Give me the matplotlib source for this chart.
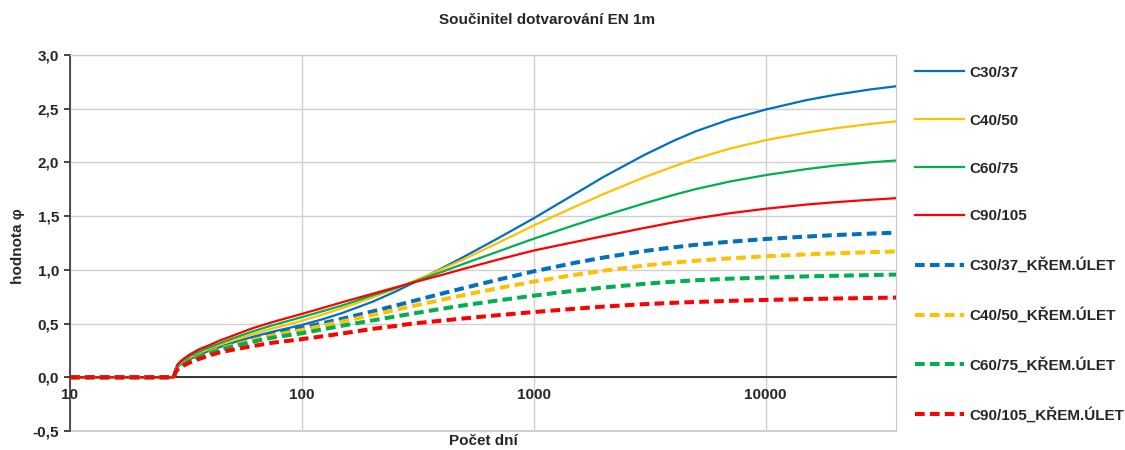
import matplotlib
matplotlib.use('Agg')
import matplotlib.pyplot as plt
from matplotlib.ticker import FixedLocator, NullLocator

plt.rcParams['font.family'] = ['Liberation Sans', 'DejaVu Sans']
plt.rcParams['font.weight'] = 'bold'

# time in days (log axis)
days = [10, 28, 28.5, 29, 30, 31, 33, 36, 40, 44, 50, 61, 75, 100, 125, 150, 200, 250,
        300, 400, 500, 700, 1000, 1500, 2000, 3000, 4000, 5000, 7000, 10000, 15000,
        20000, 28000, 36500]

c30 = [0, 0, 0.06, 0.09, 0.12, 0.14, 0.17, 0.205, 0.25, 0.28, 0.32, 0.375, 0.425,
       0.487, 0.545, 0.60, 0.70, 0.792, 0.875, 1.013, 1.122, 1.293, 1.48, 1.705, 1.865,
       2.07, 2.20, 2.29, 2.40, 2.492, 2.58, 2.63, 2.678, 2.709]
c40 = [0, 0, 0.065, 0.10, 0.13, 0.15, 0.185, 0.225, 0.265, 0.30, 0.34, 0.40, 0.455,
       0.525, 0.59, 0.645, 0.74, 0.82, 0.89, 1.005, 1.10, 1.25, 1.413, 1.586, 1.706,
       1.862, 1.962, 2.035, 2.128, 2.207, 2.277, 2.318, 2.357, 2.382]
c60 = [0, 0, 0.07, 0.105, 0.14, 0.165, 0.20, 0.24, 0.28, 0.315, 0.36, 0.425, 0.485,
       0.56, 0.62, 0.67, 0.76, 0.825, 0.885, 0.98, 1.057, 1.17, 1.29, 1.417, 1.503,
       1.619, 1.697, 1.752, 1.822, 1.882, 1.938, 1.971, 2.0, 2.018]
c90 = [0, 0, 0.075, 0.115, 0.15, 0.175, 0.215, 0.26, 0.30, 0.34, 0.385, 0.455, 0.515,
       0.59, 0.65, 0.70, 0.775, 0.833, 0.88, 0.952, 1.01, 1.095, 1.18, 1.259, 1.314,
       1.39, 1.442, 1.479, 1.527, 1.569, 1.608, 1.63, 1.652, 1.667]

c30_su = [0, 0, 0.05, 0.08, 0.11, 0.13, 0.165, 0.20, 0.24, 0.27, 0.305, 0.355, 0.405,
          0.46, 0.507, 0.546, 0.611, 0.664, 0.708, 0.778, 0.831, 0.908, 0.986, 1.065,
          1.115, 1.175, 1.21, 1.233, 1.262, 1.287, 1.31, 1.324, 1.337, 1.346]
c40_su = [0, 0, 0.05, 0.08, 0.11, 0.13, 0.16, 0.195, 0.235, 0.265, 0.295, 0.345, 0.39,
          0.44, 0.484, 0.52, 0.578, 0.624, 0.662, 0.721, 0.766, 0.829, 0.891, 0.953,
          0.992, 1.04, 1.067, 1.085, 1.107, 1.126, 1.144, 1.154, 1.164, 1.171]
c60_su = [0, 0, 0.05, 0.08, 0.105, 0.125, 0.155, 0.19, 0.225, 0.255, 0.285, 0.33, 0.37,
          0.41, 0.449, 0.481, 0.528, 0.564, 0.593, 0.637, 0.67, 0.715, 0.76, 0.806,
          0.835, 0.87, 0.89, 0.903, 0.918, 0.928, 0.939, 0.945, 0.951, 0.956]
c90_su = [0, 0, 0.045, 0.07, 0.095, 0.11, 0.14, 0.17, 0.205, 0.23, 0.255, 0.29, 0.322,
          0.355, 0.384, 0.408, 0.45, 0.476, 0.50, 0.527, 0.548, 0.578, 0.607, 0.638,
          0.658, 0.681, 0.693, 0.701, 0.711, 0.72, 0.728, 0.733, 0.738, 0.742]

labels = ['C30/37', 'C40/50', 'C60/75', 'C90/105',
          'C30/37_KŘEM.ÚLET', 'C40/50_KŘEM.ÚLET', 'C60/75_KŘEM.ÚLET', 'C90/105_KŘEM.ÚLET']
series = [c30, c40, c60, c90, c30_su, c40_su, c60_su, c90_su]
colors = ['#0070C0', '#FFC000', '#00B050', '#FF0000'] * 2

yticks = [-0.5, 0.0, 0.5, 1.0, 1.5, 2.0, 2.5, 3.0]
xticks = [10, 100, 1000, 10000]

fig = plt.figure(figsize=(11.25, 4.5), dpi=100)
ax = fig.add_axes([70 / 1125, 1 - 431 / 450, 826 / 1125, 376 / 450])

for i, (vals, lab, col) in enumerate(zip(series, labels, colors)):
    if i < 4:
        ax.plot(days, vals, color=col, lw=1.6, label=lab, zorder=3)
    else:
        ax.plot(days, vals, color=col, lw=2.9, dashes=(2.4, 1.3), label=lab,
                zorder=4, solid_capstyle='butt')

ax.set_xscale('log')
ax.set_xlim(10, 36500)
ax.set_ylim(-0.5, 3.0)
ax.xaxis.set_major_locator(FixedLocator(xticks))
ax.xaxis.set_minor_locator(NullLocator())
ax.set_xticklabels([str(v) for v in xticks])
ax.yaxis.set_major_locator(FixedLocator(yticks))
ax.set_yticklabels([f'{v:.1f}'.replace('.', ',') for v in yticks])

ax.grid(True, color='#D0D0D0', lw=1.0, zorder=0)
ax.set_axisbelow(True)
# bottom border of the plot area (x axis itself sits at 0)
ax.axhline(-0.5, color='#C8C8C8', lw=1.2, clip_on=False, zorder=1)

ax.spines['bottom'].set_position(('data', 0))
ax.spines['bottom'].set_color('#262626')
ax.spines['bottom'].set_linewidth(1.3)
ax.spines['left'].set_color('#404040')
ax.spines['left'].set_linewidth(1.3)
ax.spines['top'].set_color('#C8C8C8')
ax.spines['right'].set_color('#C8C8C8')

ax.tick_params(axis='x', length=0, pad=8, labelsize=11, colors='#262626')
ax.tick_params(axis='y', length=4, width=1.2, pad=4, labelsize=11, colors='#262626')

fig.text(18 / 1125, 1 - 246 / 450, 'hodnota φ', rotation=90, ha='center', va='center',
         fontsize=11, color='#262626')
fig.text(483 / 1125, 1 - 441 / 450, 'Počet dní', ha='center', va='center',
         fontsize=11, color='#262626')
fig.text(547 / 1125, 1 - 20 / 450, 'Součinitel dotvarování EN 1m', ha='center', va='center',
         fontsize=11, color='#262626')

fig.legend(loc='upper left', bbox_to_anchor=(901 / 1125, 1 - 52 / 450), frameon=False,
           fontsize=11, labelspacing=2.22, handlelength=3.2, handletextpad=0.4,
           labelcolor='#262626')

fig.savefig('out.png', dpi=100)
